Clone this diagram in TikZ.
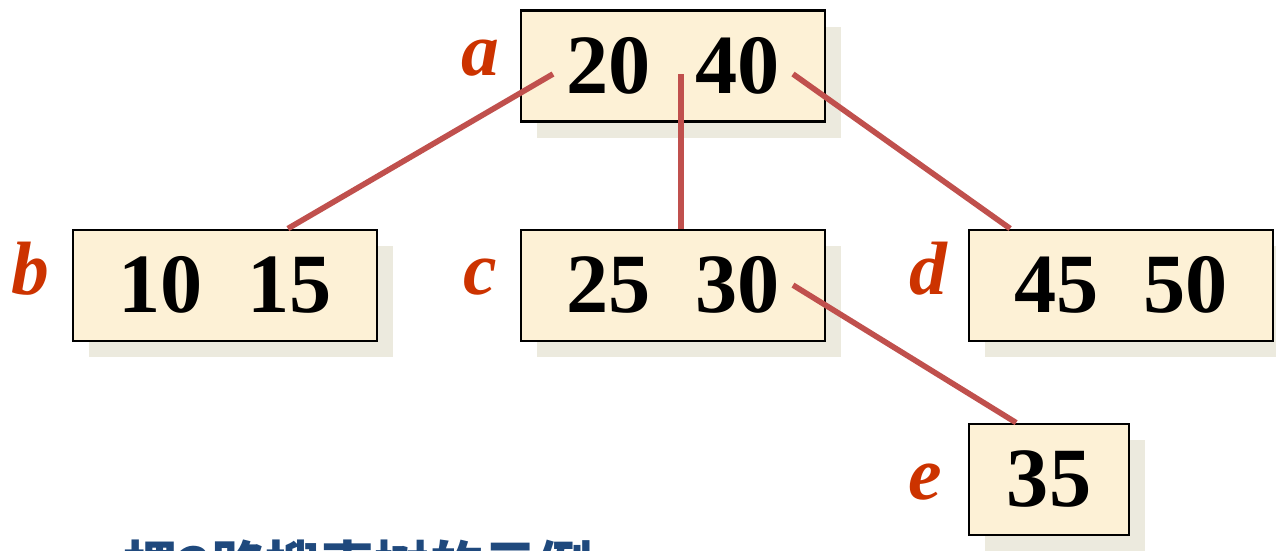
\documentclass[tikz,border=0pt]{standalone}
\usepackage{fontspec}
\setmainfont{Liberation Serif}
\newfontfamily\cjk{Noto Sans CJK SC}
\usepackage{xcolor}
\usetikzlibrary{positioning, shadows, calc}
\definecolor{boxfill}{RGB}{253,241,214}
\definecolor{shadowgray}{RGB}{236,234,222}
\definecolor{linkred}{RGB}{192,80,77}
\definecolor{lblred}{RGB}{204,51,0}
\definecolor{titleblue}{RGB}{31,73,125}

\begin{document}
\begin{tikzpicture}[
      box/.style={draw, line width=0.6pt, fill=boxfill, minimum width=3.04cm,
        minimum height=1.11cm, inner sep=0pt,
        font=\fontsize{24}{28}\selectfont\bfseries,
        general shadow={fill=shadowgray, shadow xshift=0.16cm, shadow yshift=-0.16cm}},
      lbl/.style={anchor=base east, inner sep=0pt, text=lblred,
        font=\fontsize{21.5}{26}\selectfont\bfseries\itshape},
      link/.style={draw=linkred, line width=1.6pt}
    ]
    \useasboundingbox (0,0) rectangle (12.76,5.5);
    \node[box] (a) at (6.73,4.84) {20\hspace{0.45cm}40};
    \node[box, below=1.06cm of a]  (c) {25\hspace{0.45cm}30};
    \node[box, left=1.42cm of c]   (b) {10\hspace{0.45cm}15};
    \node[box, right=1.42cm of c]  (d) {45\hspace{0.45cm}50};
    \node[box, minimum width=1.6cm, below right=0.81cm and 0cm of d.south west] (e) {35};
    \node[lbl] (la) at ($(a.west)+(-0.2,-0.09)$) {a};
    \node[lbl] (lb) at ($(b.west)+(-0.22,-0.09)$) {b};
    \node[lbl] (lc) at ($(c.west)+(-0.22,-0.09)$) {c};
    \node[lbl] (ld) at ($(d.west)+(-0.2,-0.09)$) {d};
    \node[lbl] (le) at ($(e.west)+(-0.25,-0.2)$) {e};
    \draw[link] ($(a.center)+(-1.2,-0.08)$) -- ($(b.north)+(0.63,0)$);
    \draw[link] ($(a.center)+(0.08,-0.08)$) -- ($(c.north)+(0.08,0)$);
    \draw[link] ($(a.center)+(1.2,-0.08)$)  -- ($(d.north)+(-1.11,0)$);
    \draw[link] ($(c.center)+(1.2,0)$)      -- ($(e.north)+(-0.33,0)$);
    \node[anchor=base west, inner sep=0pt, text=titleblue,
      font=\cjk\bfseries\fontsize{15.5}{18}\selectfont]
      (title) at (1.23,-0.36) {棵3路搜索树的示例};
\end{tikzpicture}
\end{document}
